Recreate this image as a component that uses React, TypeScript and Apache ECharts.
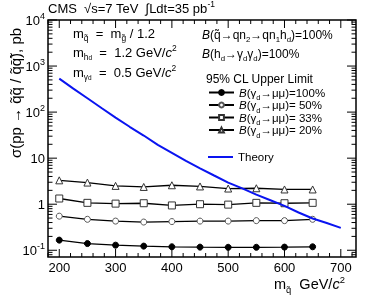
import React, { useEffect, useRef } from "react";
import * as echarts from "echarts";

// ---- data ----
const masses = [200, 250, 300, 350, 400, 450, 500, 550, 600, 650];
const limit100 = [0.166, 0.14, 0.129, 0.123, 0.119, 0.117, 0.116, 0.116, 0.117, 0.119];
const limit50 = [0.55, 0.47, 0.43, 0.41, 0.42, 0.43, 0.43, 0.44, 0.44, 0.47];
const limit33 = [1.33, 1.07, 1.03, 1.05, 0.94, 1.0, 0.98, 1.07, 1.05, 1.07];
const limit20 = [3.3, 2.95, 2.5, 2.37, 2.58, 2.43, 2.19, 2.22, 2.09, 2.09];

const theoryMasses = [200, 225, 250, 275, 300, 325, 350, 375, 400, 425, 450, 475, 500, 525, 550, 575, 600, 625, 650, 675, 700];
const theoryXsec = [533, 324, 200, 123, 76, 48, 31, 19.5, 13, 8.7, 6.0, 4.2, 2.95, 2.2, 1.62, 1.22, 0.92, 0.66, 0.49, 0.39, 0.306];

const xMajorTicks = [200, 300, 400, 500, 600, 700];
const xMinorTicks = [180, 220, 240, 260, 280, 320, 340, 360, 380, 420, 440, 460, 480, 520, 540, 560, 580, 620, 640, 660, 680, 720];
const yMajorTicks = [0.1, 1, 10, 100, 1000, 10000];
const yMinorTicks = [
  0.08, 0.09,
  0.2, 0.3, 0.4, 0.5, 0.6, 0.7, 0.8, 0.9,
  2, 3, 4, 5, 6, 7, 8, 9,
  20, 30, 40, 50, 60, 70, 80, 90,
  200, 300, 400, 500, 600, 700, 800, 900,
  2000, 3000, 4000, 5000, 6000, 7000, 8000, 9000,
];

const legendNames = ["100%", "50%", "33%", "20%"];
const legendLabels = ["=100%", "= 50%", "= 33%", "= 20%"];

const FONT = "Liberation Sans";

const richText = (size: number, lh: number) => ({
  b: { fontSize: size, fontFamily: FONT, lineHeight: lh, color: "#000" },
  i: { fontSize: size, fontFamily: FONT, fontStyle: "italic", lineHeight: lh, color: "#000" },
  sub: { fontSize: size * 0.65, fontFamily: FONT, verticalAlign: "bottom", color: "#000" },
  ss: { fontSize: size * 0.5, fontFamily: FONT, verticalAlign: "bottom", color: "#000" },
  sup: { fontSize: size * 0.65, fontFamily: FONT, verticalAlign: "top", color: "#000" },
});

export default function App() {
  const ref = useRef<HTMLDivElement>(null);

  useEffect(() => {
    if (!ref.current) return;
    const chart = echarts.init(ref.current, undefined, { renderer: "svg" });

    const lineSeries = (name: string, data: number[], symbol: string, size: number, fill: string, stroke: string) => ({
      type: "line",
      name,
      data: masses.map((m, i) => [m, data[i]]),
      symbol,
      symbolSize: size,
      lineStyle: { color: "#000", width: 1.3 },
      itemStyle: { color: fill, borderColor: stroke, borderWidth: 1 },
      z: 3,
    });

    const tickLine = (x1: number, y1: number, x2: number, y2: number) => ({
      type: "line",
      shape: { x1, y1, x2, y2 },
      style: { stroke: "#000", lineWidth: 1 },
    });

    const option: any = {
      animation: false,
      grid: { left: 48, right: 18, top: 20, bottom: 40, show: true, borderColor: "#000", borderWidth: 1.5, backgroundColor: "transparent" },
      xAxis: {
        type: "value",
        min: 180,
        max: 727,
        axisLine: { show: false },
        axisTick: { show: false },
        splitLine: { show: false },
        axisLabel: {
          color: "#000",
          fontSize: 13,
          fontFamily: FONT,
          margin: 4,
          formatter: (v: number) => (xMajorTicks.includes(Math.round(v)) && Math.abs(v - Math.round(v)) < 1e-6 ? String(Math.round(v)) : ""),
        },
      },
      yAxis: {
        type: "log",
        logBase: 10,
        min: 0.0714,
        max: 10000,
        axisLine: { show: false },
        axisTick: { show: false },
        splitLine: { show: false },
        axisLabel: {
          showMinLabel: false,
          margin: 3,
          formatter: (v: number) => {
            const e = Math.log10(v);
            const r = Math.round(e);
            if (Math.abs(e - r) > 0.01) return "";
            if (r === 0) return "{b|1}";
            if (r === 1) return "{b|10}";
            return `{b|10}{sup|${r}}`;
          },
          rich: {
            b: { fontSize: 13, fontFamily: FONT, lineHeight: 17, color: "#000" },
            sup: { fontSize: 9, fontFamily: FONT, verticalAlign: "top", color: "#000" },
          },
        },
      },
      legend: [
        {
          data: legendNames,
          orient: "vertical",
          left: 208,
          top: 86.5,
          padding: 0,
          itemWidth: 25,
          itemHeight: 6,
          itemGap: -2,
          selectedMode: false,
          formatter: (n: string) => `{i|B}{b|(γ}{sub|d}{b|→μμ)${legendLabels[legendNames.indexOf(n)]}}`,
          textStyle: { rich: richText(11.5, 17) },
        },
        {
          data: [{ name: "Theory", icon: "rect" }],
          orient: "vertical",
          left: 208,
          top: 150,
          padding: 0,
          itemWidth: 25,
          itemHeight: 2,
          selectedMode: false,
          textStyle: { fontSize: 11.5, fontFamily: FONT, color: "#000", lineHeight: 14 },
        },
      ],
      series: [
        lineSeries("100%", limit100, "circle", 6, "#000", "#000"),
        lineSeries("50%", limit50, "circle", 6, "#fff", "#555"),
        lineSeries("33%", limit33, "rect", 7, "#fff", "#333"),
        lineSeries("20%", limit20, "triangle", 7, "#fff", "#333"),
        {
          type: "line",
          name: "Theory",
          data: theoryMasses.map((m, i) => [m, theoryXsec[i]]),
          symbol: "none",
          lineStyle: { color: "#0a14f0", width: 2 },
          itemStyle: { color: "#0a14f0" },
          z: 4,
        },
        {
          type: "custom",
          silent: true,
          data: [[200, 1]],
          z: 5,
          renderItem: (params: any, api: any) => {
            const cs = params.coordSys;
            const left = cs.x, top = cs.y, right = cs.x + cs.width, bottom = cs.y + cs.height;
            const children: any[] = [];
            xMajorTicks.forEach((v) => {
              const x = api.coord([v, 1])[0];
              children.push(tickLine(x, bottom, x, bottom - 8), tickLine(x, top, x, top + 8));
            });
            xMinorTicks.forEach((v) => {
              const x = api.coord([v, 1])[0];
              children.push(tickLine(x, bottom, x, bottom - 4), tickLine(x, top, x, top + 4));
            });
            yMajorTicks.forEach((v) => {
              const y = api.coord([200, v])[1];
              children.push(tickLine(left, y, left + 9, y), tickLine(right, y, right - 9, y));
            });
            yMinorTicks.forEach((v) => {
              const y = api.coord([200, v])[1];
              children.push(tickLine(left, y, left + 4.5, y), tickLine(right, y, right - 4.5, y));
            });
            return { type: "group", children };
          },
        },
      ],
      graphic: [
        {
          type: "text",
          x: 48,
          y: 8,
          style: {
            text: "{b|CMS  √s=7 TeV  ∫Ldt=35 pb}{sup|-1}",
            rich: richText(13, 16),
            textVerticalAlign: "middle",
          },
        },
        {
          type: "text",
          x: 73,
          y: 33,
          style: {
            text: "{b|m}{sub|q̃}{b|  =  m}{sub|g̃}{b| / 1.2}",
            rich: richText(13, 17),
            textVerticalAlign: "middle",
          },
        },
        {
          type: "text",
          x: 73,
          y: 52,
          style: {
            text: "{b|m}{sub|h}{ss|d}{b|  =  1.2 GeV/}{i|c}{sup|2}",
            rich: richText(13, 17),
            textVerticalAlign: "middle",
          },
        },
        {
          type: "text",
          x: 73,
          y: 72,
          style: {
            text: "{b|m}{sub|γ}{ss|d}{b|  =  0.5 GeV/}{i|c}{sup|2}",
            rich: richText(13, 17),
            textVerticalAlign: "middle",
          },
        },
        {
          type: "text",
          x: 202,
          y: 35,
          style: {
            text: "{i|B}{b|(q̃→qn}{sub|2}{b|→qn}{sub|1}{b|h}{sub|d}{b|)=100%}",
            rich: richText(12, 17),
            textVerticalAlign: "middle",
          },
        },
        {
          type: "text",
          x: 202,
          y: 54,
          style: {
            text: "{i|B}{b|(h}{sub|d}{b|→γ}{sub|d}{b|γ}{sub|d}{b|)=100%}",
            rich: richText(12, 17),
            textVerticalAlign: "middle",
          },
        },
        {
          type: "text",
          x: 206,
          y: 79,
          style: {
            text: "95% CL Upper Limit",
            font: `12px ${FONT}`,
            fill: "#000",
            textVerticalAlign: "middle",
          },
        },
        {
          type: "text",
          x: 15,
          y: 93,
          rotation: Math.PI / 2,
          style: {
            text: "σ(pp → q̃q̃ / q̃q̄̃), pb",
            font: `15px ${FONT}`,
            fill: "#000",
            textAlign: "center",
            textVerticalAlign: "middle",
          },
        },
        {
          type: "text",
          x: 274,
          y: 284,
          style: {
            text: "{b|m}{sub|q̃}{b|  GeV/}{i|c}{sup|2}",
            rich: richText(14.5, 19),
            textVerticalAlign: "middle",
          },
        },
      ],
    };

    chart.setOption(option);
    return () => chart.dispose();
  }, []);

  return <div ref={ref} style={{ position: "fixed", left: 0, top: 0, width: 374, height: 297 }} />;
}
